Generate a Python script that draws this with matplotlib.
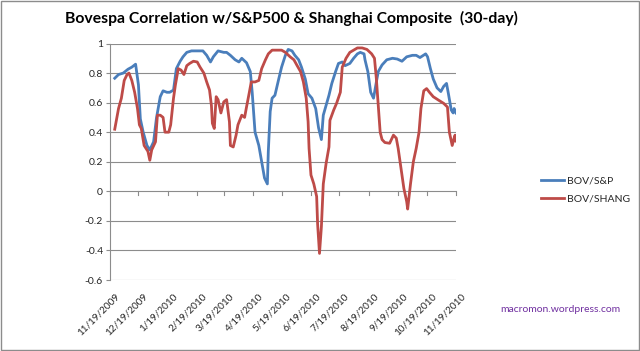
import matplotlib
matplotlib.use("Agg")
import matplotlib.pyplot as plt
import matplotlib.dates as mdates
import matplotlib.patches as mpatches
import matplotlib.transforms as mtransforms
import pandas as pd

title = "Bovespa Correlation w/S&P500 & Shanghai Composite  (30-day)"
series_names = ["BOV/S&P", "BOV/SHANG"]
watermark = "macromon.wordpress.com"
tick_labels = ["11/19/2009", "12/19/2009", "1/19/2010", "2/19/2010", "3/19/2010",
               "4/19/2010", "5/19/2010", "6/19/2010", "7/19/2010", "8/19/2010",
               "9/19/2010", "10/19/2010", "11/19/2010"]
y_ticks = [-0.6, -0.4, -0.2, 0, 0.2, 0.4, 0.6, 0.8, 1]

sp_dates = ["2009-11-24", "2009-11-28", "2009-12-03", "2009-12-08", "2009-12-12", "2009-12-16",
            "2009-12-19", "2009-12-21", "2009-12-24", "2009-12-28", "2009-12-31", "2010-01-04",
            "2010-01-07", "2010-01-11", "2010-01-14", "2010-01-18", "2010-01-21", "2010-01-25",
            "2010-01-28", "2010-02-01", "2010-02-04", "2010-02-08", "2010-02-13", "2010-02-20",
            "2010-02-25", "2010-03-01", "2010-03-05", "2010-03-08", "2010-03-13", "2010-03-19",
            "2010-03-22", "2010-03-26", "2010-03-31", "2010-04-04", "2010-04-07", "2010-04-12",
            "2010-04-16", "2010-04-18", "2010-04-21", "2010-04-25", "2010-04-28", "2010-05-01",
            "2010-05-04", "2010-05-05", "2010-05-07", "2010-05-09", "2010-05-12", "2010-05-16",
            "2010-05-19", "2010-05-23", "2010-05-26", "2010-05-30", "2010-06-02", "2010-06-06",
            "2010-06-09", "2010-06-13", "2010-06-16", "2010-06-20", "2010-06-24", "2010-06-27",
            "2010-06-30", "2010-07-02", "2010-07-04", "2010-07-08", "2010-07-11", "2010-07-15",
            "2010-07-18", "2010-07-22", "2010-07-25", "2010-07-30", "2010-08-03", "2010-08-07",
            "2010-08-10", "2010-08-14", "2010-08-15", "2010-08-18", "2010-08-21", "2010-08-24",
            "2010-08-27", "2010-08-29", "2010-09-02", "2010-09-07", "2010-09-13", "2010-09-18",
            "2010-09-23", "2010-09-28", "2010-10-04", "2010-10-08", "2010-10-12", "2010-10-18",
            "2010-10-20", "2010-10-23", "2010-10-26", "2010-10-30", "2010-11-03", "2010-11-06",
            "2010-11-09", "2010-11-11", "2010-11-14", "2010-11-16", "2010-11-17", "2010-11-19"]
sp_values = [0.765, 0.79, 0.80, 0.826, 0.84, 0.86,
             0.72, 0.49, 0.40, 0.31, 0.28, 0.335,
             0.495, 0.64, 0.68, 0.67, 0.67, 0.685,
             0.83, 0.88, 0.91, 0.94, 0.95, 0.95,
             0.95, 0.92, 0.875, 0.91, 0.95, 0.94,
             0.94, 0.92, 0.89, 0.875, 0.90, 0.87,
             0.81, 0.67, 0.40, 0.31, 0.20, 0.09,
             0.05, 0.27, 0.54, 0.63, 0.65, 0.76,
             0.84, 0.92, 0.96, 0.95, 0.92, 0.89,
             0.84, 0.76, 0.66, 0.63, 0.56, 0.43,
             0.35, 0.515, 0.56, 0.65, 0.73, 0.81,
             0.865, 0.875, 0.85, 0.865, 0.90, 0.93,
             0.94, 0.93, 0.89, 0.81, 0.67, 0.63,
             0.74, 0.81, 0.855, 0.89, 0.90, 0.895,
             0.88, 0.91, 0.92, 0.92, 0.905, 0.93,
             0.91, 0.83, 0.76, 0.70, 0.675, 0.71,
             0.73, 0.66, 0.55, 0.53, 0.56, 0.53]

sh_dates = ["2009-11-24", "2009-11-28", "2009-12-01", "2009-12-04", "2009-12-07", "2009-12-09",
            "2009-12-12", "2009-12-15", "2009-12-18", "2009-12-20", "2009-12-22", "2009-12-25",
            "2009-12-28", "2009-12-29", "2009-12-31", "2010-01-02", "2010-01-06", "2010-01-08",
            "2010-01-11", "2010-01-14", "2010-01-16", "2010-01-20", "2010-01-22", "2010-01-25",
            "2010-01-27", "2010-01-30", "2010-02-02", "2010-02-05", "2010-02-08", "2010-02-11",
            "2010-02-15", "2010-02-19", "2010-02-22", "2010-02-26", "2010-03-01", "2010-03-04",
            "2010-03-06", "2010-03-07", "2010-03-09", "2010-03-11", "2010-03-13", "2010-03-16",
            "2010-03-19", "2010-03-22", "2010-03-25", "2010-03-26", "2010-03-29", "2010-04-01",
            "2010-04-03", "2010-04-07", "2010-04-10", "2010-04-12", "2010-04-15", "2010-04-17",
            "2010-04-21", "2010-04-25", "2010-04-28", "2010-05-02", "2010-05-05", "2010-05-09",
            "2010-05-14", "2010-05-19", "2010-05-23", "2010-05-28", "2010-06-01", "2010-06-04",
            "2010-06-08", "2010-06-11", "2010-06-14", "2010-06-16", "2010-06-17", "2010-06-19",
            "2010-06-22", "2010-06-25", "2010-06-26", "2010-06-28", "2010-06-30", "2010-07-02",
            "2010-07-05", "2010-07-08", "2010-07-09", "2010-07-13", "2010-07-16", "2010-07-20",
            "2010-07-22", "2010-07-26", "2010-07-30", "2010-08-07", "2010-08-12", "2010-08-17",
            "2010-08-22", "2010-08-25", "2010-08-27", "2010-08-29", "2010-08-31", "2010-09-02",
            "2010-09-05", "2010-09-10", "2010-09-14", "2010-09-17", "2010-09-19", "2010-09-22",
            "2010-09-25", "2010-09-28", "2010-09-29", "2010-10-02", "2010-10-05", "2010-10-08",
            "2010-10-11", "2010-10-13", "2010-10-16", "2010-10-19", "2010-10-22", "2010-10-26",
            "2010-11-01", "2010-11-06", "2010-11-10", "2010-11-12", "2010-11-15", "2010-11-17",
            "2010-11-18", "2010-11-19"]
sh_values = [0.42, 0.56, 0.63, 0.75, 0.79, 0.80,
             0.75, 0.67, 0.56, 0.45, 0.425, 0.31,
             0.28, 0.27, 0.21, 0.28, 0.335, 0.515,
             0.515, 0.50, 0.40, 0.40, 0.45, 0.63,
             0.72, 0.83, 0.82, 0.79, 0.85, 0.865,
             0.88, 0.875, 0.84, 0.80, 0.74, 0.685,
             0.58, 0.46, 0.425, 0.64, 0.62, 0.53,
             0.605, 0.62, 0.47, 0.31, 0.30, 0.38,
             0.45, 0.515, 0.50, 0.57, 0.67, 0.74,
             0.74, 0.75, 0.83, 0.89, 0.93, 0.955,
             0.955, 0.955, 0.94, 0.91, 0.89, 0.855,
             0.81, 0.74, 0.63, 0.47, 0.29, 0.11,
             0.05, -0.035, -0.22, -0.42, -0.24, 0.05,
             0.19, 0.30, 0.48, 0.55, 0.595, 0.67,
             0.84, 0.90, 0.94, 0.97, 0.97, 0.96,
             0.93, 0.90, 0.76, 0.58, 0.40, 0.35,
             0.33, 0.325, 0.38, 0.36, 0.29, 0.155,
             0.02, -0.07, -0.12, 0.05, 0.20, 0.29,
             0.40, 0.56, 0.68, 0.695, 0.67, 0.64,
             0.615, 0.595, 0.57, 0.40, 0.31, 0.36,
             0.38, 0.34]

colors = ["#4A7EBB", "#BE4B48"]
grid_color = "#8C8C8C"
text_color = "#262626"

plt.rcParams['font.family'] = ['Lato', 'DejaVu Sans']

fig = plt.figure(figsize=(6.4, 3.51), dpi=100)
ax = fig.add_axes([110/640, 1-280/351, 346/640, (280-43.5)/351])

tick_dates = pd.to_datetime(tick_labels, format="%m/%d/%Y")
x0, x1 = mdates.date2num(tick_dates[0]), mdates.date2num(tick_dates[-1])

l1, = ax.plot(pd.to_datetime(sp_dates), sp_values, color=colors[0], lw=2.0,
              solid_joinstyle='round', zorder=3)
l2, = ax.plot(pd.to_datetime(sh_dates), sh_values, color=colors[1], lw=2.0,
              solid_joinstyle='round', zorder=3)

ax.set_xlim(x0, x1)
ax.set_ylim(-0.6, 1.0)
ax.set_yticks(y_ticks)
ax.set_yticklabels([f"{v:g}" for v in y_ticks], fontsize=7.5, color=text_color)
ax.tick_params(axis='y', length=3, color=grid_color, width=0.8, pad=2)
for v in y_ticks:
    ax.axhline(v, color=grid_color, lw=0.8, zorder=1)
for s in ["top", "right", "bottom"]:
    ax.spines[s].set_visible(False)
ax.spines["left"].set_color(grid_color)
ax.spines["left"].set_linewidth(0.8)

# category axis at zero with tick marks
ax.set_xticks([])
for d in tick_dates:
    ax.plot([d, d], [0, -0.025], color=grid_color, lw=0.8, zorder=1, clip_on=False)

# rotated date labels at the bottom
offset = mtransforms.ScaledTranslation(5/100, -12/100, fig.dpi_scale_trans)
for d, lab in zip(tick_dates, tick_labels):
    xn = mdates.date2num(d)
    xf = (xn - x0) / (x1 - x0)
    ax.text(xf, 0.0, lab, transform=ax.transAxes + offset, rotation=45,
            rotation_mode='anchor', ha='right', va='top', fontsize=7.2,
            color=text_color)

fig.text(291/640, 1-18/351, title, ha='center', va='center', fontsize=11.3,
         fontweight='bold', color="#000000")

leg = fig.legend([l1, l2], series_names, loc='center left',
                 bbox_to_anchor=(532/640, 1-190/351), frameon=False,
                 fontsize=7.5, handlelength=2.2, handletextpad=0.3,
                 labelspacing=0.9, labelcolor=text_color)

fig.text(620/640, 1-310/351, watermark, ha='right', va='center', fontsize=7.5,
         color="#7030A0")

fig.add_artist(mpatches.Rectangle((1/640, 1/351), 638/640, 349/351,
                                  transform=fig.transFigure, fill=False,
                                  edgecolor="#8C8C8C", lw=1.0))

fig.savefig("out.png", dpi=100)
